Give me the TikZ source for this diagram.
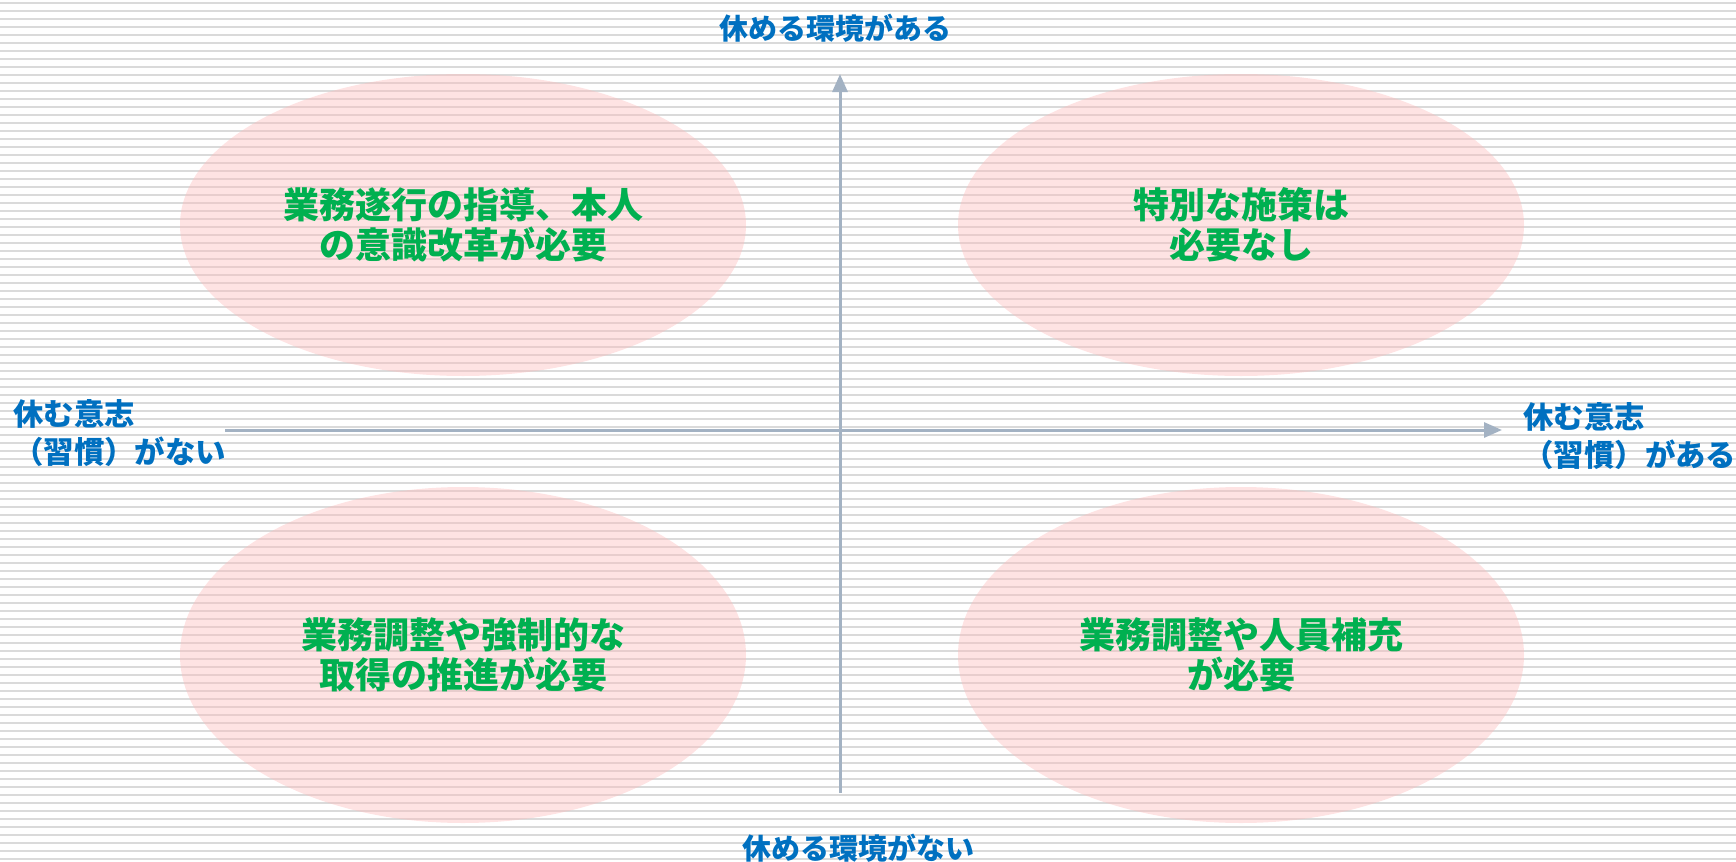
\documentclass[tikz,border=0pt]{standalone}
\usepackage{fontspec}
\setmainfont{Noto Sans CJK JP}
\usetikzlibrary{shapes.geometric,arrows.meta}
\definecolor{axisblue}{HTML}{0070C0}
\definecolor{notegreen}{HTML}{00B050}
\definecolor{rulegray}{HTML}{DADADA}
\definecolor{axisgray}{HTML}{A3B2C3}
\definecolor{blobpink}{HTML}{FCBDBD}
\tikzset{
  quad/.style={ellipse, fill=blobpink, fill opacity=0.42, text opacity=1, inner sep=0pt,
    minimum width=283pt, text=notegreen, align=center,
    font=\fontsize{18}{20}\selectfont\bfseries},
  axislabel/.style={text=axisblue, inner sep=0pt,
    font=\fontsize{14.5}{18.8}\selectfont\bfseries},
  sidelabel/.style={axislabel, anchor=west, align=left,
    font=\fontsize{15.2}{18.8}\selectfont\bfseries},
  axisline/.style={axisgray, line width=1.5pt, -{Triangle[length=9pt,width=7.5pt]}}
}
\begin{document}
\begin{tikzpicture}[x=0.5pt,y=-0.5pt]
\useasboundingbox (0,0) rectangle (1736,862);
% ruled background
\foreach \i in {0,...,107}
  \draw[rulegray, line width=1pt] (0,{3+8*\i}) -- (1736,{3+8*\i});
% quadrants
\node[quad, minimum height=151pt] (guide) at (463,225) {業務遂行の指導、本人\\の意識改革が必要};
\node[quad, minimum height=151pt] (fine) at (1241,225) {特別な施策は\\必要なし};
\node[quad, minimum height=168pt] (push) at (463,655) {業務調整や強制的な\\取得の推進が必要};
\node[quad, minimum height=168pt] (staff) at (1241,655) {業務調整や人員補充\\が必要};
% axes
\coordinate (ytop) at (840,74);
\coordinate (ybot) at (840,793);
\coordinate (xleft) at (225,430);
\coordinate (xright) at (1502,430);
\draw[axisline] (ybot) -- (ytop);
\draw[axisline] (xleft) -- (xright);
% axis labels
\node[axislabel] (envyes) at (835,28) {休める環境がある};
\node[axislabel] (envno) at (858,848) {休める環境がない};
\node[sidelabel] (willno) at (13,433) {休む意志\\（習慣）がない};
\node[sidelabel] (willyes) at (1523,436) {休む意志\\（習慣）がある};
\end{tikzpicture}
\end{document}
